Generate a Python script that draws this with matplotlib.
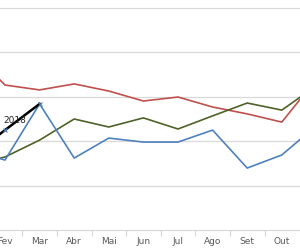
import numpy as np
import matplotlib.pyplot as plt

months = ["Jan", "Fev", "Mar", "Abr", "Mai", "Jun", "Jul", "Ago", "Set", "Out", "Nov", "Dez"]
red = [81, 65.3, 63.1, 65.8, 62.6, 58.1, 59.9, 55.4, 52.3, 48.6, 68, 66]
green = [29, 32.9, 40.5, 50.0, 46.4, 50.5, 45.5, 51.4, 57.2, 54.0, 65, 62]
blue = [36, 31.5, 56.8, 32.4, 41.4, 39.6, 39.6, 45.0, 27.9, 33.8, 47, 45]
y2018 = [33, 45, 56.8]
label_2018 = "2018"

x = np.arange(len(months))

fig = plt.figure(figsize=(3, 2.5), dpi=100)
ax = fig.add_axes([0, 20 / 250, 1, 230 / 250])

grid_c = "#d9d9d9"
for g in [20, 40, 60, 80, 100]:
    ax.axhline(g, color=grid_c, lw=0.9, zorder=0)

ax.plot(x, red, color="#C0504D", lw=1.2)
ax.plot(x, green, color="#4F6228", lw=1.2)
ax.plot(x, blue, color="#4F81BD", lw=1.2)
ax.plot(x[:3], y2018, color="black", lw=1.8)
ax.plot(x[1:3], y2018[1:], ls="none", marker="x", ms=3, mew=0.8, color="#4F81BD")
ax.text(1 - 2 / 34.6, y2018[1] + 3, label_2018, fontsize=6.5, color="#222222",
        family="DejaVu Sans")

for s in ["left", "right", "top"]:
    ax.spines[s].set_visible(False)
ax.spines["bottom"].set_color(grid_c)
ax.spines["bottom"].set_linewidth(0.9)

# only the visible months get labels
vis = x[1:10]
ax.set_yticks([])
ax.set_xticks(vis)
ax.set_xticklabels(months[1:10], fontsize=6.5, color="#595959", family="DejaVu Sans")
ax.set_xticks(vis[:-1] + 0.5, minor=True)
ax.tick_params(axis="x", which="major", length=0, pad=5)
ax.tick_params(axis="x", which="minor", length=4, color=grid_c, width=0.9)

ax.set_xlim(1 - 5 / 34.6, 1 - 5 / 34.6 + 300 / 34.6)
ax.set_ylim(0, 230 / 44.4 * 20)

fig.savefig("out.png", dpi=100)
